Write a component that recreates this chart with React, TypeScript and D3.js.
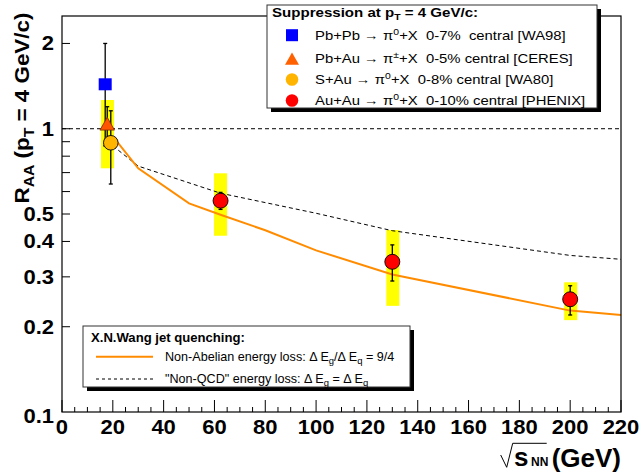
import React from "react";
import * as d3 from "d3";

// ---------- data ----------
const xMajorTicks = [0, 20, 40, 60, 80, 100, 120, 140, 160, 180, 200, 220];
const xMinorStep = 5;
const yTickValues = [0.2, 0.3, 0.4, 0.5, 0.6, 0.7, 0.8, 0.9, 1, 2];
const yTickLabels = ["0.1", "0.2", "0.3", "0.4", "0.5", "1", "2"];
const yTickLabelValues = [0.1, 0.2, 0.3, 0.4, 0.5, 1, 2];

// WA98 Pb+Pb
const wa98X = [17.0];
const wa98Y = [1.435];
const wa98Lo = [0.87];
const wa98Hi = [2.0];
// CERES Pb+Au
const ceresX = [17.8];
const ceresY = [1.04];
const ceresLo = [0.9];
const ceresHi = [1.196];
// WA80 S+Au
const wa80X = [19.2];
const wa80Y = [0.892];
const wa80Lo = [0.638];
const wa80Hi = [1.157];
// PHENIX Au+Au
const phenixX = [62.4, 130, 200];
const phenixY = [0.557, 0.339, 0.25];
const phenixLo = [0.519, 0.29, 0.22];
const phenixHi = [0.596, 0.389, 0.279];
// systematic bands
const sysX = [17.9, 62.4, 130.2, 200.2];
const sysLo = [0.725, 0.419, 0.237, 0.211];
const sysHi = [1.263, 0.696, 0.439, 0.287];

// X.N.Wang curves
const nonAbelianX = [20, 30, 50, 62.4, 80, 100, 130, 200, 220];
const nonAbelianY = [0.94, 0.725, 0.545, 0.497, 0.438, 0.372, 0.306, 0.228, 0.22];
const nonQcdX = [20, 30, 62.4, 100, 130, 200, 220];
const nonQcdY = [0.87, 0.738, 0.592, 0.503, 0.4365, 0.357, 0.346];

const legendEntries = [
  { a: "Pb+Pb ", b: "0", c: "+X  0-7%  central [WA98]" },
  { a: "Pb+Au ", b: "±", c: "+X  0-5% central [CERES]" },
  { a: "S+Au ", b: "0", c: "+X  0-8% central [WA80]" },
  { a: "Au+Au ", b: "0", c: "+X  0-10% central [PHENIX]" },
];

// ---------- layout ----------
const W = 640;
const H = 475;
const L = 62;
const R = 621;
const T = 16;
const B = 412;
const FONT = "'Liberation Sans', Arial, Helvetica, sans-serif";

const x = d3.scaleLinear().domain([0, 220]).range([L, R]);
const y = d3.scaleLog().domain([0.1, 2.5]).range([B, T]);

const lineGen = d3
  .line<[number, number]>()
  .x((d) => x(d[0]))
  .y((d) => y(d[1]));

const zip = (a: number[], b: number[]) => a.map((v, i) => [v, b[i]] as [number, number]);

function ErrBar({ xv, lo, hi }: { xv: number; lo: number; hi: number }) {
  const cx = x(xv);
  return (
    <g stroke="#000" strokeWidth={1.3}>
      <line x1={cx} x2={cx} y1={y(lo)} y2={y(hi)} />
      <line x1={cx - 2} x2={cx + 2} y1={y(lo)} y2={y(lo)} />
      <line x1={cx - 2} x2={cx + 2} y1={y(hi)} y2={y(hi)} />
    </g>
  );
}

const triPath = (cx: number, cy: number, s: number) =>
  `M${cx},${cy - s * 0.9}L${cx + s},${cy + s * 0.85}L${cx - s},${cy + s * 0.85}Z`;

export default function App() {
  const minorTicks = d3.range(0, 220 + 0.001, xMinorStep).filter((v) => v % 20 !== 0);
  const legendX = 267;
  const legendY = 5;
  const legendW = 330;
  const legendH = 103;
  const rowY = [35.2, 58.8, 79.5, 100.5];
  const leg2X = 83;
  const leg2Y = 326;
  const leg2W = 327;
  const leg2H = 61;
  const sx = 1.16;
  const sx2 = 1.05;

  return (
    <svg
      width={W}
      height={H}
      style={{ position: "absolute", left: 0, top: 0, background: "#fff" }}
      fontFamily={FONT}
    >
      <rect x={0} y={0} width={W} height={H} fill="#fff" />

      {/* systematic bands */}
      {sysX.map((v, i) => (
        <rect
          key={"s" + i}
          x={x(v) - 6.5}
          width={13}
          y={y(sysHi[i])}
          height={y(sysLo[i]) - y(sysHi[i])}
          fill="#ffff00"
        />
      ))}

      {/* reference line at 1 */}
      <line x1={L} x2={R} y1={y(1)} y2={y(1)} stroke="#000" strokeWidth={1} strokeDasharray="4 3" />

      {/* curves */}
      <path d={lineGen(zip(nonQcdX, nonQcdY)) || ""} fill="none" stroke="#000" strokeWidth={1} strokeDasharray="4 3" />
      <path d={lineGen(zip(nonAbelianX, nonAbelianY)) || ""} fill="none" stroke="#ff8c00" strokeWidth={2} />

      {/* error bars */}
      {wa98X.map((v, i) => <ErrBar key={"we" + i} xv={v} lo={wa98Lo[i]} hi={wa98Hi[i]} />)}
      {ceresX.map((v, i) => <ErrBar key={"ce" + i} xv={v} lo={ceresLo[i]} hi={ceresHi[i]} />)}
      {wa80X.map((v, i) => <ErrBar key={"8e" + i} xv={v} lo={wa80Lo[i]} hi={wa80Hi[i]} />)}
      {phenixX.map((v, i) => <ErrBar key={"pe" + i} xv={v} lo={phenixLo[i]} hi={phenixHi[i]} />)}

      {/* markers */}
      {wa98X.map((v, i) => (
        <rect key={"w" + i} x={x(v) - 6.5} y={y(wa98Y[i]) - 6} width={13} height={12} fill="#0000ff" />
      ))}
      {ceresX.map((v, i) => (
        <path key={"c" + i} d={triPath(x(v), y(ceresY[i]), 7.3)} fill="#ff5500" stroke="#7a2a00" strokeWidth={0.8} />
      ))}
      {wa80X.map((v, i) => (
        <circle key={"8" + i} cx={x(v)} cy={y(wa80Y[i])} r={7.3} fill="#ffb400" stroke="#000" strokeWidth={0.9} />
      ))}
      {phenixX.map((v, i) => (
        <circle key={"p" + i} cx={x(v)} cy={y(phenixY[i])} r={7.5} fill="#ff0000" stroke="#000" strokeWidth={0.9} />
      ))}

      {/* frame */}
      <rect x={L} y={T} width={R - L} height={B - T} fill="none" stroke="#000" strokeWidth={1.2} />

      {/* x ticks */}
      {xMajorTicks.map((v) => (
        <line key={"xm" + v} x1={x(v)} x2={x(v)} y1={B} y2={B - 12} stroke="#000" strokeWidth={1} />
      ))}
      {minorTicks.map((v) => (
        <line key={"xn" + v} x1={x(v)} x2={x(v)} y1={B} y2={B - 5} stroke="#000" strokeWidth={1} />
      ))}
      {xMajorTicks.map((v) => (
        <text key={"xl" + v} x={x(v)} y={434} textAnchor="middle" fontSize={20} fontWeight="bold"
          transform={`translate(${x(v)},0) scale(1.1,1) translate(${-x(v)},0)`}>
          {v}
        </text>
      ))}

      {/* y ticks */}
      {yTickValues.map((v) => (
        <line key={"yt" + v} x1={L} x2={L + 8} y1={y(v)} y2={y(v)} stroke="#000" strokeWidth={1} />
      ))}
      {yTickLabelValues.map((v, i) => (
        <text key={"yl" + v} x={54} y={(v === 0.1 ? y(v) + 4 : y(v)) + 7} textAnchor="end" fontSize={20} fontWeight="bold"
          transform={`translate(54,0) scale(1.1,1) translate(-54,0)`}>
          {yTickLabels[i]}
        </text>
      ))}

      {/* y title */}
      <text transform={`translate(29,108) rotate(-90) scale(1.12,1)`} textAnchor="middle" fontSize={20} fontWeight="bold">
        R<tspan fontSize={14} dy={5}>AA</tspan>
        <tspan dy={-5}> (p</tspan>
        <tspan fontSize={14} dy={5}>T</tspan>
        <tspan dy={-5}> = 4 GeV/c)</tspan>
      </text>

      {/* x title */}
      <path d="M500.7,455 L506.7,467.3 L512.7,443.3 L546.7,443.3" fill="none" stroke="#000" strokeWidth={1} />
      <text x={514} y={466} fontSize={26} fontWeight="bold">s</text>
      <text x={531} y={466} fontSize={12} fontWeight="bold">NN</text>
      <text x={621} y={467} fontSize={26} fontWeight="bold" textAnchor="end">(GeV)</text>

      {/* legend 1 */}
      <rect x={legendX + 4} y={legendY + 4} width={legendW} height={legendH} fill="#000" />
      <rect x={legendX} y={legendY} width={legendW} height={legendH} fill="#fff" stroke="#333" strokeWidth={1} />
      <text transform={`translate(272,17) scale(${sx},1)`} fontSize={13} fontWeight="bold">
        Suppression at p<tspan fontSize={9} dy={3}>T</tspan><tspan dy={-3}> = 4 GeV/c:</tspan>
      </text>
      <rect x={286} y={rowY[0] - 6} width={12} height={12} fill="#0000ff" />
      <path d={triPath(292, rowY[1], 7)} fill="#ff6000" />
      <circle cx={292} cy={rowY[2]} r={6.3} fill="#ffb400" />
      <circle cx={292} cy={rowY[3]} r={6.3} fill="#ff0000" />
      {legendEntries.map((e, i) => (
        <text key={"le" + i} transform={`translate(315,${rowY[i] + 4.5}) scale(${sx},1)`} fontSize={12.8} style={{ whiteSpace: "pre" }}>
          {e.a}→ π<tspan fontSize={9} dy={-5}>{e.b}</tspan><tspan dy={5}>{e.c}</tspan>
        </text>
      ))}

      {/* legend 2 */}
      <rect x={leg2X + 4} y={leg2Y + 4} width={leg2W} height={leg2H} fill="#000" />
      <rect x={leg2X} y={leg2Y} width={leg2W} height={leg2H} fill="#fff" stroke="#333" strokeWidth={1} />
      <text transform={`translate(91,342) scale(${sx2},1)`} fontSize={12.5} fontWeight="bold">
        X.N.Wang jet quenching:
      </text>
      <line x1={96} x2={153} y1={356.7} y2={356.7} stroke="#ff8c00" strokeWidth={2} />
      <line x1={96} x2={153} y1={379} y2={379} stroke="#000" strokeWidth={1} strokeDasharray="3 3" />
      <text transform={`translate(165,361) scale(${sx2},1)`} fontSize={12} style={{ whiteSpace: "pre" }}>
        Non-Abelian energy loss: Δ E<tspan fontSize={9} dy={3}>g</tspan><tspan dy={-3}>/Δ E</tspan>
        <tspan fontSize={9} dy={3}>q</tspan><tspan dy={-3}> = 9/4</tspan>
      </text>
      <text transform={`translate(165,383) scale(${sx2},1)`} fontSize={12} style={{ whiteSpace: "pre" }}>
        "Non-QCD" energy loss: Δ E<tspan fontSize={9} dy={3}>g</tspan><tspan dy={-3}> = Δ E</tspan>
        <tspan fontSize={9} dy={3}>q</tspan>
      </text>
    </svg>
  );
}
